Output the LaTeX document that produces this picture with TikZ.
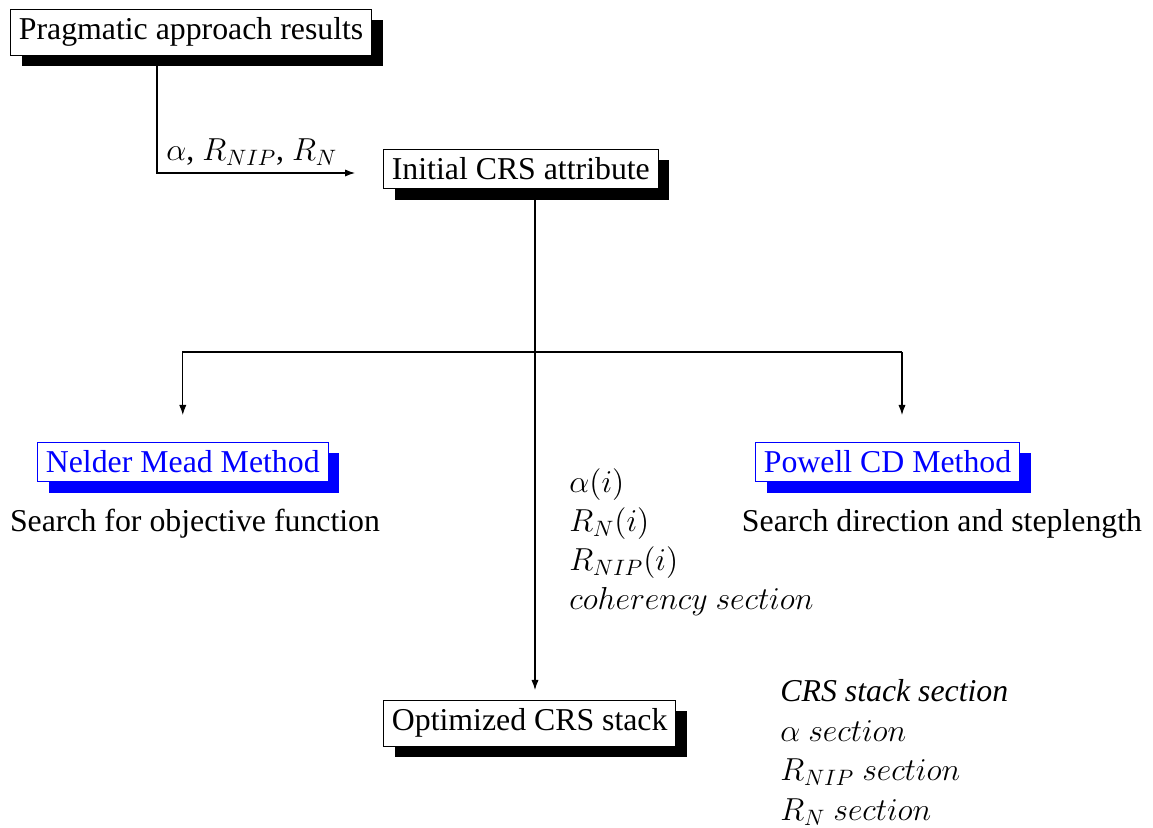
\RequirePackage{fix-cm}
\documentclass[tikz,border=0pt]{standalone}
\usepackage{fontspec}
\setmainfont{Liberation Serif}
\usetikzlibrary{arrows.meta,calc,positioning,shadows}

\tikzset{
  frame/.style={draw, fill=white, line width=0.5pt, inner sep=4.2pt, anchor=north west},
  blackbox/.style={frame, drop shadow={shadow xshift=5.5pt, shadow yshift=-5.5pt, fill=black, opacity=1}},
  bluebox/.style={frame, draw=blue, text=blue, drop shadow={shadow xshift=5.5pt, shadow yshift=-5.5pt, fill=blue, opacity=1}},
  flow/.style={line width=0.55pt, -{Latex[length=5pt,width=3.6pt]}},
  notes/.style={anchor=north west, inner sep=0pt, align=left}
}

\begin{document}
\begin{tikzpicture}[x=0.5pt, y=-0.5pt, font=\fontsize{15.9}{19.5}\selectfont]
  \useasboundingbox (0,0) rectangle (1153,828);

  % boxes
  \node[blackbox] (prag) at (10,9) {Pragmatic approach results};
  \node[blackbox] (init) at (383,149) {Initial CRS attribute};
  \node[bluebox] (nelder) at (37,442) {Nelder Mead Method};
  \node[bluebox] (powell) at (755,442) {Powell CD Method};
  \node[blackbox] (opt) at (383,700) {Optimized CRS stack};

  \node[anchor=base] (nelderdesc) at (195,532) {Search for objective function};
  \node[anchor=base] (powelldesc) at (942,532) {Search direction and steplength};

  % labels
  \node[anchor=base west, inner sep=0pt] (inlab) at (166,161) {$\alpha$, $R_{NIP}$, $R_N$};
  \node[notes] (iterlist) at (569,468) {$\alpha(i)$\\ $R_N(i)$\\ $R_{NIP}(i)$\\ $coherency\ section$};
  \node[notes] (stacklist) at (780,679) {\textit{CRS stack section}\\[0.3pt] $\alpha\ section$\\[0.3pt] $R_{NIP}\ section$\\[0.3pt] $R_N\ section$};

  % connectors
  \coordinate (tap) at (157,173);
  \coordinate (spine) at (535,352);
  \coordinate (pw) at (902,352);

  \draw[flow, shorten >=14pt] (prag.south -| tap) -- (tap) -- (init.west |- tap);
  \draw[flow, shorten >=5pt] (init.south -| spine) -- (opt.north -| spine);
  \draw[flow, shorten >=13.5pt] (pw) -- (spine -| nelder.north) -- (nelder.north);
  \draw[flow, shorten >=13.5pt] (pw) -- (pw |- powell.north);
\end{tikzpicture}
\end{document}
